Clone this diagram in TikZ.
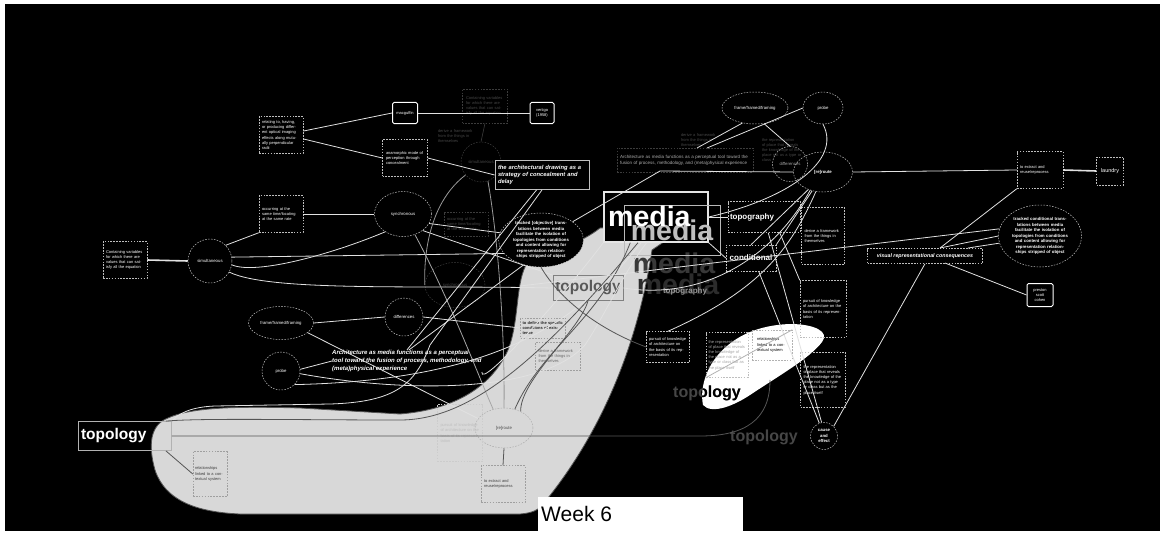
\documentclass[tikz,border=0pt]{standalone}
\usepackage{fontspec}
\setmainfont{Liberation Sans}
\usetikzlibrary{shapes.geometric}
\definecolor{lgray}{RGB}{216,216,216}
\definecolor{wline}{RGB}{225,225,225}
\definecolor{dline}{RGB}{85,85,85}
\definecolor{ghostl}{RGB}{60,60,60}
\definecolor{ghostt}{RGB}{70,70,70}
\definecolor{dashc}{RGB}{190,190,190}
\newcommand\ftiny{\fontsize{4}{5.2}\selectfont}
\newcommand\flbl{\fontsize{4.3}{5.2}\selectfont}
\newcommand\fbt{\bfseries\fontsize{4.3}{5.5}\selectfont}
\tikzset{
  wl/.style={draw=wline, line width=0.8pt},
  gl/.style={draw=dline, line width=0.8pt},
  fl/.style={draw=ghostl, line width=0.6pt},
  dsh/.style={dash pattern=on 1.6pt off 1.3pt},
  dbox/.style={rectangle, draw=dashc, dsh, line width=0.5pt, text=white, font=\ftiny, align=left, inner sep=1.5pt},
  dboxd/.style={dbox, draw=ghostl, text=ghostt},
  gbox/.style={dbox, draw=gray!75, text=black!75},
  dell/.style={ellipse, draw=dashc, dsh, line width=0.5pt, text=white, font=\flbl, inner sep=0pt, align=center},
  gell/.style={dell, draw=gray!65, text=black!70},
  sbox/.style={rectangle, rounded corners=1.5pt, draw=white, line width=1pt, text=white, font=\ftiny, align=center, inner sep=1pt},
  tbox/.style={rectangle, draw=gray!60, line width=0.8pt, font=\bfseries\fontsize{15.5}{16}\selectfont, inner sep=0pt},
  bigm/.style={font=\bfseries\fontsize{28.5}{29}\selectfont, inner sep=0pt},
}
\begin{document}
\begin{tikzpicture}[x=1pt,y=-1pt]
\useasboundingbox (0,0) rectangle (1160,535);
\fill[white] (0,0) rectangle (1160,535);
\fill[black] (5,4) rectangle (1160,531);

% light gray region
\fill[lgray, draw=dline, line width=0.8pt] (155,470) .. controls (148,445) and (150,425) .. (168,418)
  .. controls (190,408) and (230,406) .. (300,408) -- (400,414)
  .. controls (450,410) and (490,390) .. (508,350)
  .. controls (520,320) and (515,280) .. (528,262)
  .. controls (545,250) and (575,248) .. (600,228) -- (690,224) -- (652,250)
  .. controls (640,330) and (610,420) .. (548,498)
  .. controls (542,508) and (535,513) .. (520,514) -- (240,514)
  .. controls (195,512) and (165,500) .. cycle;

% white blob
\fill[white] (703,405) .. controls (700,390) and (705,370) .. (718,355)
  .. controls (735,335) and (760,325) .. (790,324)
  .. controls (815,324) and (830,332) .. (822,342)
  .. controls (810,358) and (780,375) .. (750,395)
  .. controls (735,405) and (712,415) .. cycle;

% ghost / faded elements
\node[dboxd, minimum width=45pt, minimum height=34pt, text width=38pt] (cvar2) at (485,106) {Containing variables for which there are values that can satisfy all the equation};
\node[dell, circle, draw=ghostl, text=ghostt, minimum size=40pt] (dimc) at (481,162) {simultaneous};
\node[dboxd, minimum width=44pt, minimum height=24pt, text width=38pt] (dimocc) at (466,224) {occurring at the same time/locating at the same rate};
\node[dell, draw=ghostl, text=ghostt, minimum width=60pt, minimum height=45pt] (dimsync) at (455,285) {synchronous};
\node[text=ghostt, font=\ftiny, align=left, text width=38pt, inner sep=0pt] (dimder) at (457,136) {derive a framework from the things in themselves};
\node[text=ghostt, font=\ftiny, align=left, text width=38pt, inner sep=0pt] (dimder2) at (700,140) {derive a framework from the things in themselves};
\node[text=ghostt, font=\ftiny, align=left, text width=40pt, inner sep=0pt] (dimrep) at (782,150) {the representation of place that reveals the knowledge of the place not as a type or class};
\node[bigm, text={rgb,255:red,44;green,44;blue,44}] (gm3) at (678,284) {media};
\node[bigm, text={rgb,255:red,56;green,56;blue,56}] (gm2) at (674,263) {media};
\node[text=gray!85, font=\bfseries\fontsize{8}{9}\selectfont, inner sep=0pt] (gtopog) at (685,291) {topography};
\node[text=ghostt, font=\bfseries\fontsize{16}{17}\selectfont, inner sep=0pt] (topo4) at (764,437) {topology};
\node[text=ghostt, font=\bfseries\fontsize{16}{17}\selectfont, inner sep=0pt] (topo3) at (707,393) {topology};
\begin{scope}
\clip (703,405) .. controls (700,390) and (705,370) .. (718,355)
  .. controls (735,335) and (760,325) .. (790,324)
  .. controls (815,324) and (830,332) .. (822,342)
  .. controls (810,358) and (780,375) .. (750,395)
  .. controls (735,405) and (712,415) .. cycle;
\node[text=black, font=\bfseries\fontsize{16}{17}\selectfont, inner sep=0pt] (topo3b) at (707,393) {topology};
\end{scope}

% left cluster
\node[dbox, minimum width=44pt, minimum height=37pt, text width=38pt] (cvar) at (125,260) {Containing variables for which there are values that can satisfy all the equation};
\node[dell, circle, minimum size=44pt] (simul) at (210,261) {simultaneous};
\node[dbox, minimum width=44pt, minimum height=37pt, text width=38pt] (occur) at (281,214) {occurring at the same time/locating at the same rate};
\node[dbox, minimum width=44pt, minimum height=37pt, text width=38pt] (relat) at (281,135) {relating to, having, or producing different optical imaging effects along mutually perpendicular radii};
\node[sbox, minimum width=25pt, minimum height=21pt] (macg) at (405,113) {macguffin};
\node[sbox, minimum width=24pt, minimum height=21pt] (vert) at (542,113) {vertigo\\(1958)};
\node[dbox, minimum width=45pt, minimum height=37pt, text width=38pt] (anam) at (405,158) {anamorphic mode of perception through concealment};
\node[dell, minimum width=57pt, minimum height=45pt] (sync) at (403,214) {synchronous};
\node[rectangle, draw=white!75!black, line width=0.8pt, fill=black, text=white, font=\bfseries\itshape\fontsize{5.8}{7.3}\selectfont, align=left, minimum width=94pt, minimum height=29pt, text width=88pt, inner sep=2pt] (archd) at (542,175) {the architectural drawing as a strategy of concealment and delay};
\node[dell, fill=black, minimum width=84pt, minimum height=54pt, text width=60pt, font=\fbt] (track1) at (541,240) {tracked [objective] translations between media facilitate the isolation of topologies from conditions and content allowing for representation relationships stripped of object};

% right cluster
\node[dell, minimum width=66pt, minimum height=32pt] (fff1) at (755,108) {frame/framed/framing};
\node[dell, minimum width=40pt, minimum height=32pt] (probe1) at (823,108) {probe};
\node[dell, circle, minimum size=35pt, text=gray!70] (diff1) at (790,164) {differences};
\node[dell, minimum width=59pt, minimum height=40pt, font=\fbt] (reroute1) at (823,172) {[re]route};
\node[dbox, draw=ghostl, text=gray!65, minimum width=136pt, minimum height=24pt, text width=130pt, font=\fontsize{4.5}{6}\selectfont] (archm1) at (685,160) {Architecture as media functions as a perceptual tool toward the fusion of process, methodology, and (meta)physical experience};
% media box, its gray echo, then its white word
\node[rectangle, fill=black, draw=white!90!black, line width=1.5pt, minimum width=104pt, minimum height=50pt, inner sep=0pt] (mediabox) at (656,217) {};
\node[rectangle, draw=gray!55, line width=0.8pt, minimum width=96pt, minimum height=50pt, bigm, text=gray!50] (gm1) at (672,230) {media};
\node[bigm, text=white, anchor=west] (media) at (608,216) {media};
\node[dbox, minimum width=72pt, minimum height=31pt, text width=68pt, font=\bfseries\fontsize{8}{9}\selectfont] (topog) at (764,217) {topography};
\node[dbox, minimum width=50pt, minimum height=26pt, font=\bfseries\fontsize{8}{9}\selectfont] (cond) at (751,258) {conditional};
\node[dbox, minimum width=43pt, minimum height=57pt, text width=37pt] (derive1) at (823,236) {derive a framework from the things in themselves};
\node[dbox, minimum width=46pt, minimum height=57pt, text width=40pt] (pursuit1) at (823,309) {pursuit of knowledge of architecture on the basis of its representation};
\node[dbox, minimum width=45pt, minimum height=55pt, text width=39pt] (repr1) at (823,380) {the representation of place that reveals the knowledge of the place not as a type or class but as the place itself};
\node[dell, circle, fill=black, minimum size=27pt, font=\fbt] (cause) at (824,436) {cause\\and\\effect};
\node[dbox, minimum width=115pt, minimum height=15pt, font=\bfseries\itshape\fontsize{5.3}{6}\selectfont] (visrep) at (925,256) {visual representational consequences};
\node[dbox, minimum width=46pt, minimum height=37pt, text width=40pt] (extract1) at (1040,170) {to extract and reuse/reprocess};
\node[dbox, minimum width=27pt, minimum height=28pt, font=\fontsize{5.5}{6}\selectfont] (laundry) at (1110,171) {laundry};
\node[dell, minimum width=83pt, minimum height=62pt, text width=58pt, font=\fbt] (track2) at (1040,236) {tracked conditional translations between media facilitate the isolation of topologies from conditions and content allowing for representation relationships stripped of object};
\node[sbox, minimum width=26pt, minimum height=23pt] (psc) at (1040,295) {preston\\scott\\cohen};

% bottom left cluster
\node[dell, minimum width=65pt, minimum height=33pt] (fff2) at (281,323) {frame/framed/framing};
\node[dell, circle, minimum size=38pt] (diff2) at (404,317) {differences};
\node[dell, circle, minimum size=38pt] (probe2) at (281,371) {probe};
\node[gell, minimum width=58pt, minimum height=40pt] (reroute2) at (504,428) {[re]route};
\node[gbox, minimum width=44pt, minimum height=37pt, text width=38pt] (extract2) at (503,484) {to extract and reuse/reprocess};
\node[gbox, draw=gray!40, text=gray!50, minimum width=45pt, minimum height=57pt, text width=39pt] (pursuit2) at (460,433) {pursuit of knowledge of architecture on the basis of its representation};
\node[gbox, minimum width=34pt, minimum height=45pt, text width=30pt] (relat2) at (210,474) {relationships linked to a contextual system};
\node[tbox, text=white, minimum width=93pt, minimum height=29pt, text width=88pt, align=left] (topo1) at (125,436) {topology};
\node[tbox, draw=gray, text=black!65, minimum width=70pt, minimum height=25pt] (topo2) at (588,288) {topology};
\node[gbox, minimum width=45pt, minimum height=20pt, text width=41pt, text=black!85, font=\bfseries\ftiny] (define) at (543,328) {to define the specific conditions of existence};
\node[gbox, text=black!60, minimum width=45pt, minimum height=28pt, text width=39pt] (derive2) at (558,356) {derive a framework from the things in themselves};
\node[dbox, minimum width=43pt, minimum height=31pt, text width=38pt] (pursuit3) at (668,347) {pursuit of knowledge of architecture on the basis of its representation};
\node[dbox, text=gray!70, minimum width=42pt, minimum height=45pt, text width=37pt] (repr2) at (727,355) {the representation of place that reveals the knowledge of the place not as a type or class but as the place itself};
\node[dbox, draw=gray!60, text=black, minimum width=40pt, minimum height=30pt, text width=30pt] (relat3) at (772,345) {relationships linked to a contextual system};
\node[anchor=north west, text=white, font=\bfseries\itshape\fontsize{6}{8}\selectfont, align=left, inner sep=0pt] (archm2) at (332,350) {Architecture as media functions as a perceptual\\tool toward the fusion of process, methodology, and\\(meta)physical experience};

% named free ends
\coordinate (a1) at (697,148);
\coordinate (a2) at (707,148);
\coordinate (a3) at (660,171);
\coordinate (v1) at (940,248);
\coordinate (v2) at (945,263);
\coordinate (v3) at (968,248);
\coordinate (lstart) at (520,286);
\coordinate (blobend) at (770,380);

% connectors: left
\draw[wl, line width=1.6pt] (cvar.east) -- (simul.west);
\draw[wl] (simul.north east) -- (occur.south west);
\draw[wl] (occur.east) -- (sync.west);
\draw[wl] (simul.10) -- (track1.200);
\draw[wl] (simul.-10) .. controls (255,275) and (330,255) .. (sync.225);
\draw[wl] (simul.-30) .. controls (270,292) and (420,285) .. (topo2.west);
\draw[wl] (relat.10) -- (macg.west);
\draw[wl] (relat.-10) -- (anam.west);
\draw[wl] (anam.east) -- (archd.west);
\draw[wl] (macg.east) -- (vert.west);
\draw[fl] (cvar2.south) -- (dimc.north);
\draw[wl] (sync.-20) -- (track1.170);
\draw[wl] (sync.-40) -- (topo2.north west);
\draw[wl, draw=gray!80] (dimc.220) .. controls (420,210) and (425,280) .. (dimsync.west);
\draw[wl, draw=gray!80] (dimc.-70) .. controls (500,250) and (505,350) .. (reroute2.north);
\draw[wl, draw=gray!70] (sync.-60) .. controls (450,300) and (480,380) .. (reroute2.120);
\draw[wl] (archd.south) -- (430,345) .. controls (415,385) and (395,402) .. (330,404) -- (215,406) .. controls (190,407) and (178,414) .. (topo1.north east);
\draw[wl] (archd.250) -- (archm2.north);
\draw[wl] (track1.235) -- (archm2.80);
\draw[wl] (mediabox.south west) .. controls (560,300) and (480,390) .. (archm2.south east);
\draw[wl] (mediabox.240) .. controls (580,320) and (500,380) .. (probe2.south east);
\draw[wl] (probe2.-8) .. controls (400,392) and (540,395) .. (585,345) .. controls (605,315) and (625,270) .. (mediabox.250);
\draw[wl] (fff2.east) -- (diff2.west);
\draw[wl] (fff2.-20) -- (reroute2.160);
\draw[wl] (probe2.5) -- (archm2.west);
\draw[wl] (diff2.east) -- (define.west);

% connectors in the gray region
\draw[gl] (topo1.east) -- (700,436) .. controls (745,436) and (770,420) .. (blobend);
\draw[gl] (topo1.-20) -- (relat2.west);
\draw[gl] (topo1.20) .. controls (200,418) and (300,420) .. (400,420) .. controls (470,420) and (540,360) .. (mediabox.235);
\draw[gl] (reroute2.south) -- (extract2.north);
\draw[gl] (mediabox.225) .. controls (600,320) and (540,350) .. (reroute2.60);
\draw[gl] (topo2.south) .. controls (580,330) and (520,380) .. (reroute2.45);
\draw[gl] (track1.south) .. controls (560,300) and (600,330) .. (pursuit3.west);

% connectors: right
\draw[wl] (fff1.230) -- (a1);
\draw[wl] (fff1.-60) -- (diff1.north);
\draw[wl] (probe1.west) -- (a2);
\draw[wl] (probe1.south) .. controls (842,160) and (790,198) .. (mediabox.east);
\draw[wl] (reroute1.east) -- (extract1.west);
\draw[wl, line width=1.6pt] (extract1.east) -- (laundry.west);
\draw[wl] (track1.30) -- (a3) -- (reroute1.west);
\draw[wl] (reroute1.-130) -- (cond.north);
\draw[wl] (reroute1.-120) -- (cond.north east);
\draw[wl] (reroute1.235) .. controls (770,262) and (700,300) .. (topo2.east);
\draw[wl] (reroute1.-110) .. controls (790,250) and (760,290) .. (pursuit3.north);
\draw[wl] (mediabox.east) -- (topog.west);
\draw[wl] (mediabox.south east) -- (cond.west);
\draw[wl] (topog.-45) -- (pursuit1.north west);
\draw[wl] (cond.-60) -- (cause.110);
\draw[wl] (topog.-75) -- (cause.100);
\draw[wl] (extract1.south west) -- (v1);
\draw[wl] (visrep.south) -- (cause.north east);
\draw[wl] (v2) -- (psc.west);
\draw[wl] (track2.west) -- (v1);
\draw[wl] (track2.190) -- (v3);
\draw[wl] (lstart) -- (track2.170);
\draw[gl, draw=gray!60] (repr2.south west) -- (relat3.north east);

% Week 6 label
\fill[white] (538,497) rectangle (743,535);
\node[anchor=base west, text=black, font=\fontsize{21}{21}\selectfont, inner sep=0pt] (week) at (541,521) {Week 6};
\end{tikzpicture}
\end{document}
